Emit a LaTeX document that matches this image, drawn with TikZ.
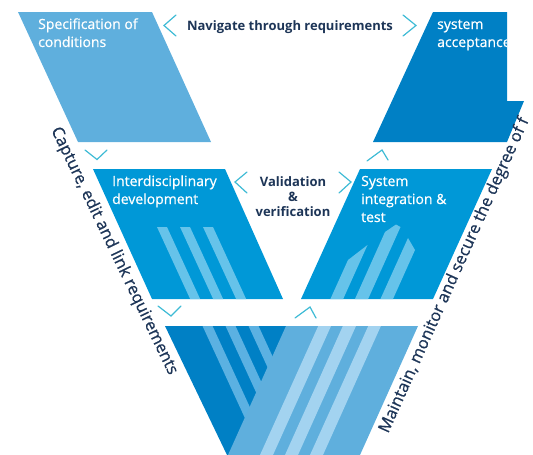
\documentclass[tikz,border=0pt]{standalone}
\usepackage{fontspec}
\setmainfont{Open Sans}
\newfontface\medfont[FakeBold=0.7]{Open Sans}
\definecolor{lightblue}{HTML}{5FAFDD}
\definecolor{darkblue}{HTML}{0080C5}
\definecolor{midblue}{HTML}{0098D7}
\definecolor{stripemid}{HTML}{66C3EA}
\definecolor{stripedark}{HTML}{5BB1E2}
\definecolor{stripelight}{HTML}{A3D3F0}
\definecolor{chev}{HTML}{3EBBD5}
\definecolor{navy}{HTML}{1D3557}
\begin{document}
\begin{tikzpicture}[x=1pt,y=-1pt,
  whitelabel/.style={text=white,anchor=base west,inner sep=0pt,font=\fontsize{14}{16}\medfont},
  navylabel/.style={text=navy,anchor=base,inner sep=0pt,font=\fontsize{13}{15}\bfseries},
  sidelabel/.style={text=navy,inner sep=0pt,font=\fontsize{16.5}{18}\medfont},
  chevron/.style={draw=chev,line width=1.2pt,line cap=round,line join=miter}]
\useasboundingbox (0,0) rectangle (533,455);
\clip (0,0) rectangle (533,455);

% ---- top shapes
\fill[lightblue] (18,12) -- (152,12) -- (211,142) -- (78,142) -- cycle;
\fill[darkblue] (433,12) -- (507,12) -- (507,101) -- (524,101) -- (507,142) -- (373,142) -- cycle;

% ---- middle boxes
\fill[midblue] (93,169) -- (225,169) -- (283,299) -- (152,299) -- cycle;
\fill[midblue] (360,169) -- (492,169) -- (433,299) -- (301,299) -- cycle;

% stripes left box
\begin{scope}
  \clip (93,169) -- (225,169) -- (283,299) -- (152,299) -- cycle;
  \foreach \L in {157,180,203}
    \fill[stripemid] (\L,227) -- (\L+10,227) -- (\L+114.9,455) -- (\L+104.9,455) -- cycle;
\end{scope}
% stripes right box
\begin{scope}
  \clip (360,169) -- (492,169) -- (433,299) -- (301,299) -- cycle;
  \fill[stripemid] (260,455) -- (273,455) -- (367.5,245) -- (348,260) -- cycle;
  \fill[stripemid] (285,455) -- (298,455) -- (400.5,227) -- (396,224.5) -- (385,232) -- cycle;
  \fill[stripemid] (310,455) -- (323,455) -- (415,250) -- (408,238) -- cycle;
\end{scope}

% ---- bottom V
\fill[darkblue] (165,326) -- (297,326) -- (359,455) -- (227,455) -- cycle;
\begin{scope}
  \clip (165,326) -- (297,326) -- (359,455) -- (227,455) -- cycle;
  \foreach \L in {157,180,203}
    \fill[stripedark] (\L,227) -- (\L+10,227) -- (\L+114.9,455) -- (\L+104.9,455) -- cycle;
\end{scope}
\fill[lightblue] (286,326) -- (418,326) -- (360,455) -- (228,455) -- cycle;
\begin{scope}
  \clip (286,326) -- (418,326) -- (360,455) -- (228,455) -- cycle;
  \fill[stripelight] (260,455) -- (273,455) -- (367.5,245) -- (348,260) -- cycle;
  \fill[stripelight] (285,455) -- (298,455) -- (400.5,227) -- (385,232) -- cycle;
  \fill[stripelight] (310,455) -- (323,455) -- (415,250) -- (408,238) -- cycle;
\end{scope}

% ---- white labels
\node[whitelabel] (spec1) at (38,29) {Specification of};
\node[whitelabel] (spec2) at (38,47) {conditions};
\begin{scope}
  \clip (433,12) -- (507,12) -- (507,142) -- (373,142) -- cycle;
  \node[whitelabel] (acc1) at (437,29) {system};
  \node[whitelabel] (acc2) at (437,47) {acceptance};
\end{scope}
\node[whitelabel] (dev1) at (112,186) {Interdisciplinary};
\node[whitelabel] (dev2) at (112,204) {development};
\node[whitelabel] (int1) at (361,186) {System};
\node[whitelabel] (int2) at (361,204) {integration \&};
\node[whitelabel] (int3) at (361,222) {test};

% ---- navy labels
\node[navylabel] (nav) at (290,30) {Navigate through requirements};
\node[navylabel] (val1) at (293,186) {Validation};
\node[navylabel] (val2) at (293,201) {\&};
\node[navylabel] (val3) at (293,216) {verification};

\node[sidelabel,rotate=-64.3] (cap) at (114,251) {Capture, edit and link requirements};
\node[sidelabel,rotate=65.8,anchor=base west] (mai) at (388,434) {Maintain, monitor and secure the degree of f};

% ---- chevrons
\draw[chevron] (176,15) -- (164,25.5) -- (176,36);
\draw[chevron] (403,15) -- (416,25.5) -- (403,36);
\draw[chevron] (247,172) -- (235,182) -- (247,193);
\draw[chevron] (339,172) -- (351,182) -- (339,193);
\draw[chevron] (85,150) -- (97,159.5) -- (107,150);
\draw[chevron] (158,306) -- (171,316) -- (181,306);
\draw[chevron] (367,161) -- (382,150) -- (388,160);
\draw[chevron] (295,318) -- (310,307) -- (316,318);
\end{tikzpicture}
\end{document}
